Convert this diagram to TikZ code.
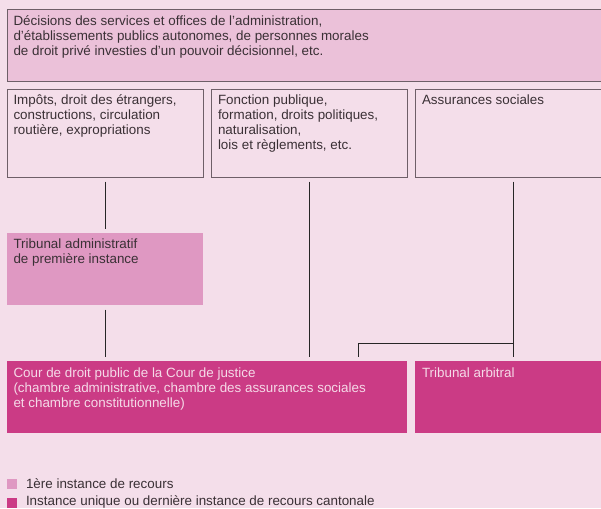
\documentclass[tikz,border=0pt]{standalone}
\usepackage{fontspec}
\setmainfont{Liberation Sans}
\definecolor{bgpink}{HTML}{F4DEEA}
\definecolor{toppink}{HTML}{EBC1D9}
\definecolor{firstpink}{HTML}{DF98C2}
\definecolor{lastpink}{HTML}{CB3B85}
\definecolor{lighttext}{HTML}{F5DAE8}
\definecolor{darktext}{HTML}{3A3035}
\definecolor{boxline}{HTML}{6E5F68}
\begin{document}
\begin{tikzpicture}
[
    x=1pt, y=-1pt,
    font=\fontsize{13.4}{15.3}\selectfont,
    every node/.style={inner sep=0, outer sep=0},
    plainbox/.style={shape=rectangle, anchor=north west, draw=boxline, line width=0.6pt, fill=bgpink},
    topbox/.style={plainbox, fill=toppink},
    firstbox/.style={shape=rectangle, anchor=north west, fill=firstpink},
    lastbox/.style={shape=rectangle, anchor=north west, fill=lastpink},
    txt/.style={anchor=base west, align=left, text=darktext},
    lighttxt/.style={txt, text=lighttext},
    link/.style={draw=black!85, line width=0.7pt, shorten <=4.5pt, shorten >=4pt},
]
\useasboundingbox (0,0) rectangle (601,508);
\clip (0,0) rectangle (601,508);
\fill[bgpink] (0,0) rectangle (601,508);

% boxes
\node(dec) at (7,9) [topbox, minimum width=620pt, minimum height=72pt]{};
\node(impots) at (7,89) [plainbox, minimum width=196pt, minimum height=88pt]{};
\node(fonction) at (211,89) [plainbox, minimum width=196pt, minimum height=88pt]{};
\node(assur) at (415,89) [plainbox, minimum width=196pt, minimum height=88pt]{};
\node(tribadm) at (7,233) [firstbox, minimum width=196pt, minimum height=72pt]{};
\node(cour) at (7,361) [lastbox, minimum width=400pt, minimum height=72pt]{};
\node(arbitral) at (415,361) [lastbox, minimum width=196pt, minimum height=72pt]{};

% texts (placed at the baseline of their last line)
\node(dectxt) at (13.5,56) [txt]{Décisions des services et offices de l’administration,\\d’établissements publics autonomes, de personnes morales\\de droit privé investies d’un pouvoir décisionnel, etc.};
\node(impotstxt) at (13.5,134.6) [txt]{Impôts, droit des étrangers,\\constructions, circulation\\routière, expropriations};
\node(fonctiontxt) at (218,149.9) [txt]{Fonction publique,\\formation, droits politiques,\\naturalisation,\\lois et règlements, etc.};
\node(assurtxt) at (422,104) [txt]{Assurances sociales};
\node(tribadmtxt) at (13.5,263.8) [txt]{Tribunal administratif\\de première instance};
\node(courtxt) at (13.5,407.6) [lighttxt]{Cour de droit public de la Cour de justice\\(chambre administrative, chambre des assurances sociales\\et chambre constitutionnelle)};
\node(arbitraltxt) at (422,377) [lighttxt]{Tribunal arbitral};

% connectors
\coordinate(branch) at (358,343);
\draw[link] (impots.south) to (tribadm.north);
\draw[link] (tribadm.south) to (tribadm.south |- cour.north);
\draw[link] (fonction.south) to (fonction.south |- cour.north);
\draw[link] (assur.south) to (arbitral.north);
\draw[link, shorten <=0pt] (assur.south |- branch) -- (branch) -- (branch |- cour.north);

% legend
\node(keyfirst) at (7,479) [firstbox, minimum width=10pt, minimum height=10pt]{};
\node(keylast) at (7,497.5) [lastbox, minimum width=10pt, minimum height=10pt]{};
\node(keyfirsttxt) at (26,488) [txt]{1ère instance de recours};
\node(keylasttxt) at (26,505.5) [txt]{Instance unique ou dernière instance de recours cantonale};
\end{tikzpicture}
\end{document}
